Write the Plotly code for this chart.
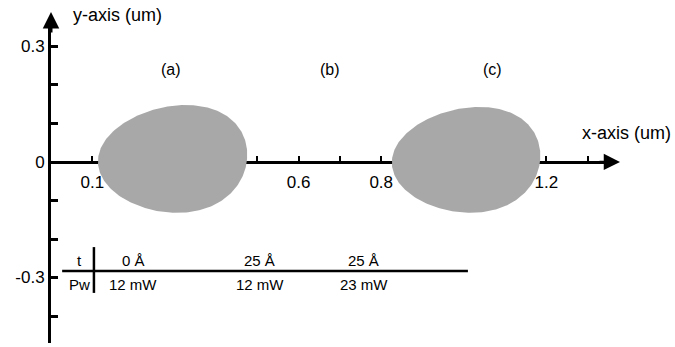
import numpy as np
import plotly.graph_objects as go

# ---------------- data ----------------
x_ticks = [0.1, 0.2, 0.3, 0.4, 0.5, 0.6, 0.7, 0.8, 0.9, 1.0, 1.1, 1.2, 1.3]
x_ticktext = ["0.1", "", "", "", "", "0.6", "", "0.8", "", "", "", "1.2", ""]
y_ticks = [-0.4, -0.3, -0.2, -0.1, 0.0, 0.1, 0.2, 0.3]
y_ticktext = ["", "-0.3", "", "", "0", "", "", "0.3"]

case_labels = ["(a)", "(b)", "(c)"]
case_label_x = [0.29, 0.675, 1.07]

# written spots (extent in um)
spot_names = ["(a)", "(c)"]
spot_left = [0.114, 0.826]
spot_right = [0.475, 1.185]
spot_top = [0.148, 0.143]
spot_bottom = [-0.132, -0.132]

# condition table
row_names = ["t", "Pw"]
t_values = ["0 Å", "25 Å", "25 Å"]
pw_values = ["12 mW", "12 mW", "23 mW"]

# ---------------- layout constants ----------------
W, H = 675, 347
ML, MR, MT, MB = 51, 69, 24, 4
x_range = [0.0, 1.3445]
y_range = [-0.4701, 0.3584]
px_x = (W - ML - MR) / (x_range[1] - x_range[0])
px_y = (H - MT - MB) / (y_range[1] - y_range[0])

table_col_x = [0.199, 0.506, 0.758]
row_label_x = 0.070
row_y = [-0.257, -0.319]
table_line_y = -0.283
table_line_x = [0.027, 1.01]
table_vline_x = 0.104
table_vline_y = [-0.221, -0.340]
label_y = 0.239

FONT = "Liberation Sans, Arial, sans-serif"
spot_color = "#a8a8a8"
x_axis_pos = (0 - y_range[0]) / (y_range[1] - y_range[0])

fig = go.Figure()

# spots (egg-shaped exposure marks)
t = np.linspace(0, 2 * np.pi, 240)
for name, l, r, tp, bt in zip(spot_names, spot_left, spot_right, spot_top, spot_bottom):
    cx, a = (l + r) / 2, (r - l) / 2
    cy, b = (tp + bt) / 2, (tp - bt) / 2
    xs = cx + a * (np.cos(t) + 0.06 * np.sin(t) + 0.12 * np.sin(t) ** 2)
    ys = cy + b * np.sin(t)
    fig.add_trace(go.Scatter(x=xs, y=ys, mode="lines", fill="toself",
                             fillcolor=spot_color, line=dict(width=0, color=spot_color),
                             hoverinfo="skip", name=name))

ann = []
# axis arrows
ann.append(dict(x=0, y=1, xref="paper", yref="paper", yshift=12, ax=0, ay=22,
                axref="pixel", ayref="pixel", text="", showarrow=True,
                arrowhead=2, arrowsize=1.1, arrowwidth=3, arrowcolor="black"))
ann.append(dict(x=1, y=x_axis_pos, xref="paper", yref="paper", xshift=14, ax=-22, ay=0,
                axref="pixel", ayref="pixel", text="", showarrow=True,
                arrowhead=2, arrowsize=1.3, arrowwidth=2.5, arrowcolor="black"))

for lab, lx in zip(case_labels, case_label_x):
    ann.append(dict(x=lx, y=label_y, xref="x", yref="y", text=lab, showarrow=False,
                    xanchor="center", yanchor="middle",
                    font=dict(size=16, color="black", family=FONT)))
ann.append(dict(x=(117 - ML) / px_x, y=1, xref="x", yref="paper", yshift=9,
                xanchor="center", yanchor="middle",
                text="y-axis (um)", showarrow=False,
                font=dict(size=18, color="black", family=FONT)))
ann.append(dict(x=1, y=0, xref="paper", yref="y", xshift=20, yshift=29,
                xanchor="center", yanchor="middle",
                text="x-axis (um)", showarrow=False,
                font=dict(size=18, color="black", family=FONT)))
for rn, ry in zip(row_names, row_y):
    ann.append(dict(x=row_label_x, y=ry, xref="x", yref="y", text=rn, showarrow=False,
                    xanchor="center", yanchor="middle",
                    font=dict(size=15, color="black", family=FONT)))
for cx, tv, pv in zip(table_col_x, t_values, pw_values):
    ann.append(dict(x=cx, y=row_y[0], xref="x", yref="y", text=tv, showarrow=False,
                    xanchor="center", yanchor="middle",
                    font=dict(size=15, color="black", family=FONT)))
    ann.append(dict(x=cx, y=row_y[1], xref="x", yref="y", text=pv, showarrow=False,
                    xanchor="center", yanchor="middle",
                    font=dict(size=15, color="black", family=FONT)))

shapes = [
    dict(type="line", xref="x", yref="y", x0=table_line_x[0], x1=table_line_x[1],
         y0=table_line_y, y1=table_line_y, line=dict(color="black", width=2.5)),
    dict(type="line", xref="x", yref="y", x0=table_vline_x, x1=table_vline_x,
         y0=table_vline_y[0], y1=table_vline_y[1], line=dict(color="black", width=2.5)),
]

fig.update_layout(
    width=W, height=H, margin=dict(l=ML, r=MR, t=MT, b=MB, autoexpand=False),
    paper_bgcolor="white", plot_bgcolor="white", showlegend=False,
    annotations=ann, shapes=shapes,
    xaxis=dict(range=x_range, anchor="free", position=x_axis_pos, automargin=False,
               showline=True, linecolor="black", linewidth=2.5,
               ticks="inside", ticklen=5, tickwidth=2, tickcolor="black",
               tickvals=x_ticks, ticktext=x_ticktext, ticklabelstandoff=4,
               tickfont=dict(size=17, color="black", family=FONT),
               showgrid=False, zeroline=False, layer="below traces"),
    yaxis=dict(range=y_range, automargin=False, showline=True, linecolor="black", linewidth=3,
               ticks="inside", ticklen=7, tickwidth=2.5, tickcolor="black",
               tickvals=y_ticks, ticktext=y_ticktext, ticklabelstandoff=0,
               tickfont=dict(size=17, color="black", family=FONT),
               showgrid=False, zeroline=False),
)

fig.write_html("out.html", post_script="document.body.style.margin='0px';",
               config={"displayModeBar": False})
